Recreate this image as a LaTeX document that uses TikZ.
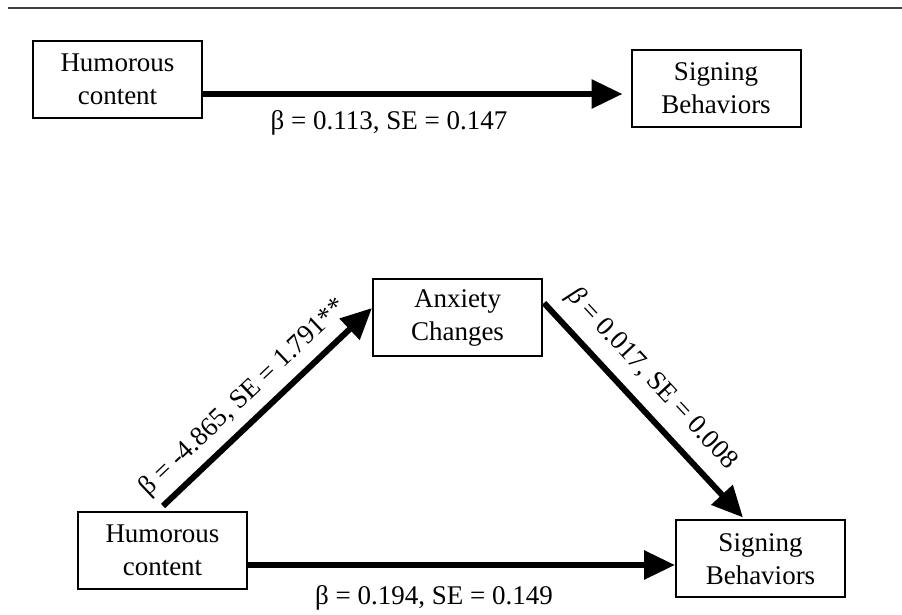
\documentclass[tikz,border=0pt]{standalone}
\usepackage{fontspec}
\setmainfont{Liberation Serif}
\usetikzlibrary{arrows.meta,calc}
\begin{document}
\begin{tikzpicture}[x=0.5pt,y=-0.5pt,
  box/.style={draw, line width=1pt, minimum width=84.5pt, minimum height=38.5pt, align=center, inner sep=0pt, font=\fontsize{13.5}{16.5}\selectfont},
  link/.style={line width=3pt, -{Triangle[length=15.5pt,width=14pt]}},
  lbl/.style={font=\fontsize{13.5}{16.5}\selectfont, inner sep=2pt}]
\useasboundingbox (0,0) rectangle (902,615);
\coordinate (rl) at (8,8);
\coordinate (rr) at (902,8);
\draw[line width=1pt, black!75] (rl) -- (rr);
% top model
\node[box] (h1) at (117.5,79.5) {Humorous\\content};
\node[box] (s1) at (716,88.5) {Signing\\Behaviors};
\draw[link, shorten >=4pt] ([yshift=-7.25pt]h1.east) -- ([yshift=-7.25pt]h1.east -| s1.west);
\node[lbl] (t1) at (389,123) {β = 0.113, SE = 0.147};
% bottom model
\node[box] (a) at (457.5,317.5) {Anxiety\\Changes};
\node[box] (h2) at (162.5,550.5) {Humorous\\content};
\node[box] (s2) at (760.5,559) {Signing\\Behaviors};
\draw[link] ([yshift=-7.25pt]h2.east) -- ([yshift=-7.25pt]h2.east -| s2.west);
\node[lbl] (t2) at (434,598) {β = 0.194, SE = 0.149};
\draw[link] ([xshift=0.25pt,yshift=2.5pt]h2.north) -- ([yshift=4.75pt]a.west)
  node[lbl, pos=0.46, sloped, above=2pt] (t3) {β = -4.865, SE = 1.791**};
\draw[link] ([xshift=0.5pt,yshift=7.25pt]a.east) -- ([xshift=-8.75pt,yshift=1pt]s2.north)
  node[lbl, pos=0.44, sloped, above=4pt] (t4) {{\itshape β} = 0.017, SE = 0.008};
\end{tikzpicture}
\end{document}
